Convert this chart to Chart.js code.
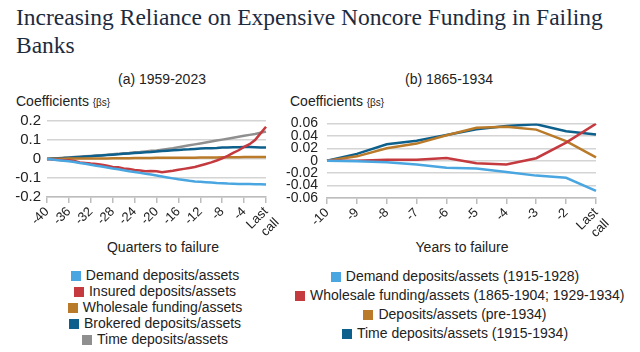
<!DOCTYPE html>
<html>
<head>
<meta charset="utf-8">
<script src="https://cdn.jsdelivr.net/npm/chart.js@4"></script>
<style>
body { margin:0; width:640px; height:352px; background:#fff; position:relative; overflow:hidden;
       font-family:"Liberation Sans", Arial, sans-serif; color:#222; }
.title { position:absolute; left:16px; top:3px; font-family:"Liberation Serif", serif; font-size:23.5px;
         line-height:28px; color:#1d2b3e; white-space:nowrap; }
.sub { position:absolute; top:71px; font-size:14px; text-align:center; width:200px; }
.coef { position:absolute; top:93px; font-size:14px; white-space:nowrap; }
.coef small { font-size:10px; }
.xt { position:absolute; top:239px; font-size:14px; width:200px; text-align:center; }
.legend { position:absolute; top:267px; width:320px; text-align:center; font-size:14px; }
.legend div { white-space:nowrap; height:16px; line-height:16px; }
.legend .box { display:inline-block; width:10px; height:10px; margin-right:5px; vertical-align:-1px; }
canvas { position:absolute; }
</style>
</head>
<body>
<div class="title">Increasing Reliance on Expensive Noncore Funding in Failing<br>Banks</div>

<div class="sub" style="left:62px">(a) 1959-2023</div>
<div class="sub" style="left:349px">(b) 1865-1934</div>
<div class="coef" style="left:16px">Coefficients <small>{βs}</small></div>
<div class="coef" style="left:290px">Coefficients <small>{βs}</small></div>
<div class="xt" style="left:63px">Quarters to failure</div>
<div class="xt" style="left:362px">Years to failure</div>

<canvas id="chartA" width="290" height="131" style="left:0px;top:106px"></canvas>
<canvas id="chartB" width="340" height="132" style="left:280px;top:106px"></canvas>

<div class="legend" id="legendA" style="left:-5px"></div>
<div class="legend" id="legendB" style="left:295px"></div>

<script>
// (a) 1959-2023, quarters to failure
const quarters = ["-40","-39","-38","-37","-36","-35","-34","-33","-32","-31","-30","-29","-28","-27",
  "-26","-25","-24","-23","-22","-21","-20","-19","-18","-17","-16","-15","-14","-13","-12","-11",
  "-10","-9","-8","-7","-6","-5","-4","-3","-2","-1","Last call"];

const demandA = [0,-0.003,-0.006,-0.009,-0.012,-0.016,-0.021,-0.025,-0.03,-0.035,-0.04,-0.045,-0.05,
  -0.054,-0.059,-0.064,-0.068,-0.073,-0.078,-0.082,-0.087,-0.092,-0.097,-0.102,-0.107,-0.111,-0.115,
  -0.118,-0.12,-0.122,-0.124,-0.126,-0.127,-0.129,-0.13,-0.131,-0.132,-0.132,-0.133,-0.133,-0.134];
const insuredA = [0,-0.002,-0.004,-0.006,-0.007,-0.01,-0.018,-0.021,-0.024,-0.026,-0.03,-0.036,-0.042,
  -0.044,-0.05,-0.053,-0.058,-0.061,-0.064,-0.063,-0.064,-0.07,-0.066,-0.062,-0.057,-0.052,-0.047,
  -0.042,-0.034,-0.026,-0.018,-0.008,0.003,0.017,0.032,0.046,0.064,0.078,0.1,0.135,0.17];
const wholesaleA = [0,0.001,0.001,0.001,0.002,0.002,0.002,0.002,0.003,0.003,0.003,0.003,0.004,0.004,
  0.004,0.004,0.005,0.005,0.005,0.005,0.006,0.006,0.006,0.006,0.007,0.007,0.007,0.007,0.008,0.008,
  0.008,0.008,0.009,0.009,0.009,0.009,0.01,0.01,0.01,0.011,0.011];
const brokeredA = [0,0.002,0.004,0.005,0.007,0.009,0.011,0.013,0.015,0.017,0.019,0.021,0.023,0.025,
  0.027,0.029,0.031,0.033,0.035,0.037,0.04,0.042,0.044,0.046,0.048,0.05,0.051,0.053,0.055,0.056,
  0.057,0.058,0.06,0.061,0.062,0.062,0.063,0.063,0.062,0.061,0.06];
const timeA = [0,0.002,0.004,0.006,0.008,0.01,0.012,0.014,0.016,0.018,0.02,0.022,0.025,0.027,0.03,
  0.032,0.035,0.037,0.04,0.043,0.045,0.049,0.053,0.057,0.062,0.067,0.072,0.077,0.082,0.087,0.092,
  0.097,0.102,0.107,0.112,0.117,0.122,0.127,0.132,0.138,0.144];

const namesA = ["Demand deposits/assets", "Insured deposits/assets", "Wholesale funding/assets",
  "Brokered deposits/assets", "Time deposits/assets"];
const colorsA = ["#4aa6e0", "#c43a3f", "#b97a2a", "#0d5f8c", "#8f8f8f"];
const seriesA = [demandA, insuredA, wholesaleA, brokeredA, timeA];

// (b) 1865-1934, years to failure
const years = ["-10","-9","-8","-7","-6","-5","-4","-3","-2","Last call"];
const demandB    = [0,-0.001,-0.0025,-0.006,-0.0115,-0.0125,-0.018,-0.024,-0.0275,-0.0485];
const wholesaleB = [0,0,0.0015,0.0015,0.0045,-0.004,-0.006,0.004,0.029,0.0595];
const depositsB  = [0,0.007,0.02,0.0275,0.041,0.053,0.0545,0.05,0.0315,0.0055];
const timeB      = [0,0.011,0.0265,0.032,0.0415,0.0505,0.056,0.0585,0.0475,0.042];

const namesB = ["Demand deposits/assets (1915-1928)", "Wholesale funding/assets (1865-1904; 1929-1934)",
  "Deposits/assets (pre-1934)", "Time deposits/assets (1915-1934)"];
const colorsB = ["#4aa6e0", "#c43a3f", "#b97a2a", "#0d5f8c"];
const seriesB = [demandB, wholesaleB, depositsB, timeB];

const gridColor = "#d4d4d4";
const font = "'Liberation Sans', Arial, sans-serif";

function makeChart(id, labels, series, names, colors, yMin, yMax, yStep, every, yFont, yPad) {
  new Chart(document.getElementById(id), {
    type: "line",
    data: {
      labels: labels,
      datasets: series.map((s, i) => ({
        label: names[i],
        data: s,
        borderColor: colors[i],
        backgroundColor: colors[i],
        borderWidth: 2.5,
        pointRadius: 0,
        tension: 0,
      })),
    },
    options: {
      responsive: false,
      animation: false,
      layout: { padding: { top: 5, right: 24, left: 0, bottom: 0 } },
      plugins: { legend: { display: false }, tooltip: { enabled: false } },
      scales: {
        x: {
          afterFit: (scale) => { scale.height = 40; },
          border: { display: true, color: "#bdbdbd", width: 1.5 },
          grid: { drawOnChartArea: false, drawTicks: true, tickLength: 6, color: "#bdbdbd", lineWidth: 1.5 },
          ticks: {
            autoSkip: false,
            minRotation: 45,
            maxRotation: 45,
            padding: 1,
            color: "#222",
            font: { family: font, size: 13 },
            callback: function (v, i) {
              if (i % every !== 0) return null;
              const l = this.getLabelForValue(v);
              return l === "Last call" ? ["Last", "call"] : l;
            },
          },
        },
        y: {
          min: yMin,
          max: yMax,
          afterFit: (scale) => { scale.width = 47; },
          border: { display: false },
          grid: { color: gridColor, lineWidth: 1.5, drawTicks: false },
          ticks: {
            autoSkip: false,
            stepSize: yStep,
            padding: yPad,
            color: "#222",
            font: { family: font, size: yFont },
            callback: (v) => String(Math.round(v * 100) / 100),
          },
        },
      },
    },
  });
}

makeChart("chartA", quarters, seriesA, namesA, colorsA, -0.2, 0.2, 0.1, 4, 15, 6);
makeChart("chartB", years, seriesB, namesB, colorsB, -0.06, 0.06, 0.02, 1, 14, 9);

function makeLegend(id, names, colors, rowHeight) {
  const el = document.getElementById(id);
  names.forEach((n, i) => {
    const row = document.createElement("div");
    row.style.height = rowHeight + "px";
    row.style.lineHeight = rowHeight + "px";
    const box = document.createElement("span");
    box.className = "box";
    box.style.background = colors[i];
    row.appendChild(box);
    row.appendChild(document.createTextNode(n));
    el.appendChild(row);
  });
}
makeLegend("legendA", namesA, colorsA, 16);
makeLegend("legendB", namesB, colorsB, 19);
</script>
</body>
</html>
